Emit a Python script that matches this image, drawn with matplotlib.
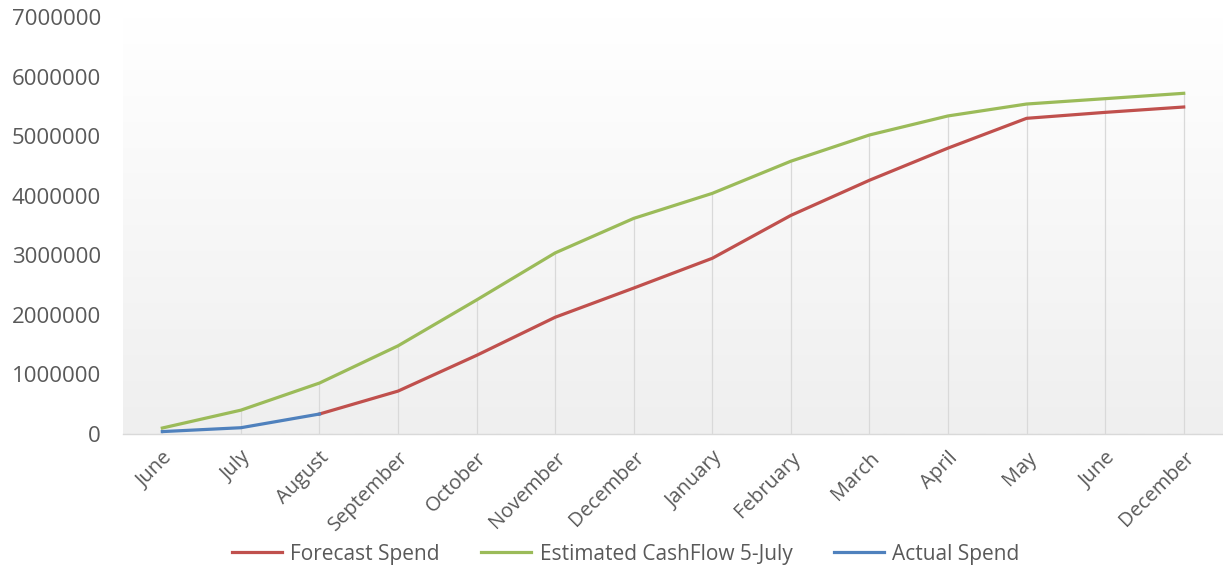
import numpy as np
import matplotlib
matplotlib.use("Agg")
import matplotlib.pyplot as plt

# カテゴリ（月）
months = ["June", "July", "August", "September", "October", "November", "December",
          "January", "February", "March", "April", "May", "June", "December"]

# 系列データ
forecast_spend = [np.nan, np.nan, 335000, 720000, 1320000, 1960000, 2450000,
                  2950000, 3670000, 4260000, 4800000, 5300000, 5400000, 5490000]
estimated_cashflow = [100000, 400000, 855000, 1480000, 2250000, 3040000, 3620000,
                      4040000, 4580000, 5020000, 5340000, 5540000, 5630000, 5720000]
actual_spend = [40000, 105000, 335000] + [np.nan] * 11

y_ticks = [0, 1000000, 2000000, 3000000, 4000000, 5000000, 6000000, 7000000]

plt.rcParams['font.family'] = ['Open Sans', 'DejaVu Sans']
text_color = "#595959"

fig = plt.figure(figsize=(12.23, 5.69), dpi=100)
ax = fig.add_axes([0.1006, 0.2373, 0.8994, 0.7327])

x = np.arange(len(months))
ax.set_xlim(-0.5, len(months) - 0.5)
ax.set_ylim(0, 7000000)

# 背景のグラデーション（上が白、下が薄いグレー）
grad = np.linspace(1.0, 0.0, 256).reshape(-1, 1)
ax.imshow(grad, cmap=matplotlib.colors.LinearSegmentedColormap.from_list(
    "bg", ["#efefef", "#ffffff"]), aspect="auto",
    extent=[-0.5, len(months) - 0.5, 0, 7000000], origin="upper", zorder=0)

# 降下線（一番上の系列から軸まで）
ax.vlines(x, 0, estimated_cashflow, color="#d9d9d9", linewidth=0.9, zorder=1)

ax.plot(x, forecast_spend, color="#C0504D", linewidth=2.3, label="Forecast Spend", zorder=3)
ax.plot(x, estimated_cashflow, color="#9BBB59", linewidth=2.3,
        label="Estimated CashFlow 5-July", zorder=3)
ax.plot(x, actual_spend, color="#4F81BD", linewidth=2.3, label="Actual Spend", zorder=4)

ax.set_xticks(x)
ax.set_xticklabels(months, rotation=45, ha="right", rotation_mode="anchor",
                   fontsize=14.5, color=text_color)
ax.set_yticks(y_ticks)
ax.set_yticklabels([str(v) for v in y_ticks], fontsize=16, color=text_color)
ax.tick_params(axis="both", length=0)
ax.tick_params(axis="x", pad=10)
ax.tick_params(axis="y", pad=16)

for side in ["top", "right", "left"]:
    ax.spines[side].set_visible(False)
ax.spines["bottom"].set_color("#d9d9d9")
ax.spines["bottom"].set_linewidth(1.0)

leg = ax.legend(loc="center", bbox_to_anchor=(0.457, -0.288), ncol=3, frameon=False,
                fontsize=15, handlelength=2.4, columnspacing=2.0, handletextpad=0.4)
for t in leg.get_texts():
    t.set_color(text_color)

fig.savefig("out.png", dpi=100)
